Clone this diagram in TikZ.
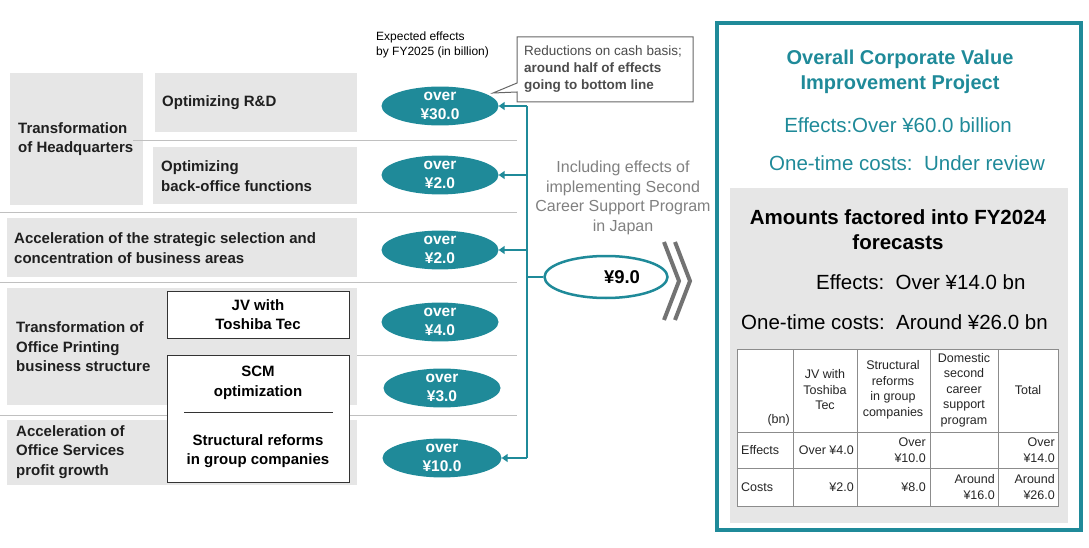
\documentclass[tikz,border=0pt]{standalone}
\usepackage{fontspec}
\setmainfont{Liberation Sans}
\usetikzlibrary{shapes.geometric,arrows.meta}
\definecolor{teal1}{RGB}{31,138,153}
\definecolor{panelgray}{RGB}{230,230,230}
\definecolor{sepgray}{RGB}{192,192,192}
\definecolor{textgray}{RGB}{128,128,128}

\begin{document}
\begin{tikzpicture}[x=1pt,y=-1pt,
    lbl/.style={inner sep=0pt,anchor=west,align=left,text=black!88,
        font=\fontsize{15}{19.5}\selectfont\bfseries},
    effect/.style={ellipse,fill=teal1,text=white,inner sep=0pt,align=center,
        minimum width=117pt,minimum height=38pt,
        font=\fontsize{15.5}{19}\selectfont\bfseries},
    subbox/.style={draw=black!80,line width=1pt,fill=white,inner sep=0pt,align=center,
        font=\fontsize{15}{19.5}\selectfont\bfseries},
    sep/.style={draw=sepgray,line width=0.9pt},
    link/.style={draw=teal1,line width=1.6pt},
    arr/.style={link,-{Triangle[length=6pt,width=8pt]}},
    big/.style={inner sep=0pt,align=center,font=\fontsize{20.5}{25}\selectfont},
    cell/.style={inner sep=0pt,align=center,text=black!85,font=\fontsize{12.5}{15.5}\selectfont}]

    \useasboundingbox (0,0) rectangle (1089,548);

    \fill[panelgray] (10,73) rectangle (143,205);
    \fill[panelgray] (155,73) rectangle (357,132);
    \fill[panelgray] (153,147) rectangle (357,204);
    \fill[panelgray] (7,218) rectangle (357,277);
    \fill[panelgray] (7,288) rectangle (357,405);
    \fill[panelgray] (7,420) rectangle (357,485);

    \draw[sep] (133,140) -- (517,140);
    \draw[sep] (0,212) -- (517,212);
    \draw[sep] (0,282) -- (517,282);
    \draw[sep] (357,355) -- (517,355);
    \draw[sep] (0,415) -- (517,415);

    \node[lbl] (hq) at (18,139) {Transformation\\of Headquarters};
    \node[lbl] (rd) at (162,103) {Optimizing R\&D};
    \node[lbl] (bo) at (161,176) {Optimizing\\back-office functions};
    \node[lbl] (sel) at (14,248) {Acceleration of the strategic selection and\\concentration of business areas};
    \node[lbl] (opb) at (16,347) {Transformation of\\Office Printing\\business structure};
    \node[lbl] (osv) at (16,452) {Acceleration of\\Office Services\\profit growth};

    \node[subbox,minimum width=182pt,minimum height=47pt] (jv) at (258,314.5) {JV with\\Toshiba Tec};
    \node[subbox,minimum width=182pt,minimum height=127pt] (scmbox) at (258,418.5) {};
    \node[subbox,draw=none,fill=none] (scm) at (258,383) {SCM\\optimization};
    \node[subbox,draw=none,fill=none] (grp) at (258,451) {Structural reforms\\in group companies};
    \draw[black!80,line width=1pt] (184,412) -- (333,412);

    \node[inner sep=0pt,anchor=west,align=left,font=\fontsize{12}{14.5}\selectfont] (exp) at (376,45) {Expected effects\\by FY2025 (in billion)};

    \draw[draw=black!60,line width=1pt,fill=white] (517,37) -- (693,37) -- (693,102) -- (517,102) -- (517,92) -- (493,93) -- (517,83) -- cycle;
    \node[inner sep=0pt,anchor=west,align=left,text=black!70,font=\fontsize{13.5}{17}\selectfont] (note) at (524,69) {Reductions on cash basis;\\\textbf{around half of effects}\\\textbf{going to bottom line}};

    \node[effect] (e1) at (440,106) {over\\¥30.0};
    \node[effect] (e2) at (440,175) {over\\¥2.0};
    \node[effect] (e3) at (440,250) {over\\¥2.0};
    \node[effect] (e4) at (440,322) {over\\¥4.0};
    \node[effect] (e5) at (442,388) {over\\¥3.0};
    \node[effect,minimum width=119pt] (e6) at (442,458) {over\\¥10.0};

    \node[ellipse,draw=teal1,line width=2.5pt,fill=white,minimum width=123pt,minimum height=42pt,inner sep=0pt,
        font=\fontsize{18.5}{20}\selectfont\bfseries] (nine) at (606,277) {\hspace*{32pt}¥9.0};

    \coordinate (bus) at (527,0);
    \draw[link] (bus |- e1) -- (bus |- e6);
    \draw[arr] (bus |- e1) -- (e1);
    \draw[arr] (bus |- e2) -- (e2);
    \draw[arr] (bus |- e3) -- (e3);
    \draw[arr] (bus |- e6) -- (e6);
    \draw[link] (bus |- nine) -- (nine);

    \node[inner sep=0pt,align=center,text=textgray,font=\fontsize{16}{19.5}\selectfont] (incl) at (623,198)
        {Including effects of\\implementing Second\\Career Support Program\\in Japan};

    \draw[black!55,line width=4pt] (664,242) -- (679,281) -- (664,320);
    \draw[black!55,line width=4pt] (675,242) -- (690,281) -- (675,320);

    \draw[teal1,line width=3.5pt] (717,23) rectangle (1081,530);
    \fill[panelgray] (730,188) rectangle (1068,523);

    \node[big,text=teal1,font=\fontsize{20}{25}\selectfont\bfseries] (title) at (900,72) {Overall Corporate Value\\Improvement Project};
    \node[big,text=teal1] (eff60) at (898,125) {Effects:Over ¥60.0 billion};
    \node[big,text=teal1] (costrev) at (907,163) {One-time costs:\ \ Under review};
    \node[big,font=\fontsize{20.5}{25}\selectfont\bfseries] (amt) at (898,230) {Amounts factored into FY2024\\forecasts};
    \node[big,anchor=west] (eff14) at (816,282) {Effects:\ \ Over ¥14.0 bn};
    \node[big,anchor=west] (cost26) at (741,322) {One-time costs:\ \ Around ¥26.0 bn};

    \draw[black!45,line width=0.8pt,fill=white] (737,349) rectangle (1058,506);
    \draw[black!45,line width=0.8pt] (737,432) -- (1058,432);
    \draw[black!45,line width=0.8pt] (737,468) -- (1058,468);
    \draw[black!45,line width=0.8pt] (793,349) -- (793,506);
    \draw[black!45,line width=0.8pt] (857,349) -- (857,506);
    \draw[black!45,line width=0.8pt] (930,349) -- (930,506);
    \draw[black!45,line width=0.8pt] (998,349) -- (998,506);

    \node[cell,anchor=east] (bn) at (790,420) {(bn)};
    \node[cell] (hjv) at (825,390) {JV with\\Toshiba\\Tec};
    \node[cell] (hsr) at (893,390) {Structural\\reforms\\in group\\companies};
    \node[cell] (hdom) at (964,390) {Domestic\\second\\career\\support\\program};
    \node[cell] (htot) at (1028,390) {Total};

    \node[cell,anchor=west] (reff) at (741,450) {Effects};
    \node[cell,anchor=east] (effjv) at (854,450) {Over ¥4.0};
    \node[cell,anchor=east,align=right] (effsr) at (926,450) {Over\\¥10.0};
    \node[cell,anchor=east,align=right] (efftot) at (1055,450) {Over\\¥14.0};

    \node[cell,anchor=west] (rcost) at (741,487) {Costs};
    \node[cell,anchor=east] (costjv) at (854,487) {¥2.0};
    \node[cell,anchor=east] (costsr) at (926,487) {¥8.0};
    \node[cell,anchor=east,align=right] (costdom) at (995,487) {Around\\¥16.0};
    \node[cell,anchor=east,align=right] (costtot) at (1055,487) {Around\\¥26.0};

\end{tikzpicture}
\end{document}
